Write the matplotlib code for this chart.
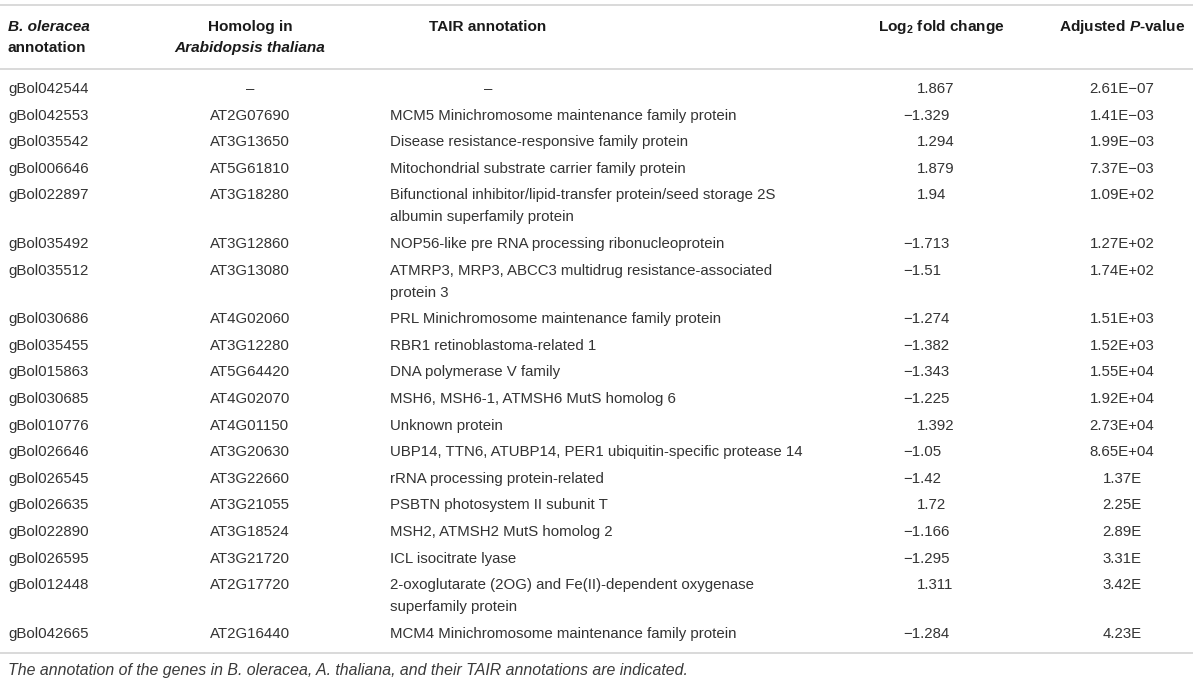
import matplotlib
matplotlib.use("Agg")
import matplotlib.pyplot as plt

plt.rcParams['font.family'] = ['Liberation Sans', 'DejaVu Sans']
plt.rcParams['mathtext.fontset'] = 'custom'
plt.rcParams['mathtext.rm'] = 'Liberation Sans:bold'
plt.rcParams['mathtext.bf'] = 'Liberation Sans:bold'
plt.rcParams['mathtext.it'] = 'Liberation Sans:italic:bold'

# table data
bol_ids = ['gBol042544', 'gBol042553', 'gBol035542', 'gBol006646', 'gBol022897',
           'gBol035492', 'gBol035512', 'gBol030686', 'gBol035455', 'gBol015863',
           'gBol030685', 'gBol010776', 'gBol026646', 'gBol026545', 'gBol026635',
           'gBol022890', 'gBol026595', 'gBol012448', 'gBol042665']
homologs = ['–', 'AT2G07690', 'AT3G13650', 'AT5G61810', 'AT3G18280',
            'AT3G12860', 'AT3G13080', 'AT4G02060', 'AT3G12280', 'AT5G64420',
            'AT4G02070', 'AT4G01150', 'AT3G20630', 'AT3G22660', 'AT3G21055',
            'AT3G18524', 'AT3G21720', 'AT2G17720', 'AT2G16440']
tair = ['–',
        'MCM5 Minichromosome maintenance family protein',
        'Disease resistance-responsive family protein',
        'Mitochondrial substrate carrier family protein',
        'Bifunctional inhibitor/lipid-transfer protein/seed storage 2S\nalbumin superfamily protein',
        'NOP56-like pre RNA processing ribonucleoprotein',
        'ATMRP3, MRP3, ABCC3 multidrug resistance-associated\nprotein 3',
        'PRL Minichromosome maintenance family protein',
        'RBR1 retinoblastoma-related 1',
        'DNA polymerase V family',
        'MSH6, MSH6-1, ATMSH6 MutS homolog 6',
        'Unknown protein',
        'UBP14, TTN6, ATUBP14, PER1 ubiquitin-specific protease 14',
        'rRNA processing protein-related',
        'PSBTN photosystem II subunit T',
        'MSH2, ATMSH2 MutS homolog 2',
        'ICL isocitrate lyase',
        '2-oxoglutarate (2OG) and Fe(II)-dependent oxygenase\nsuperfamily protein',
        'MCM4 Minichromosome maintenance family protein']
log2fc = [1.867, -1.329, 1.294, 1.879, 1.94, -1.713, -1.51, -1.274, -1.382, -1.343,
          -1.225, 1.392, -1.05, -1.42, 1.72, -1.166, -1.295, 1.311, -1.284]
padj = ['2.61E−07', '1.41E−03', '1.99E−03', '7.37E−03', '1.09E+02', '1.27E+02',
        '1.74E+02', '1.51E+03', '1.52E+03', '1.55E+04', '1.92E+04', '2.73E+04',
        '8.65E+04', '1.37E', '2.25E', '2.89E', '3.31E', '3.42E', '4.23E']
caption = ('The annotation of the genes in B. oleracea, A. thaliana, '
           'and their TAIR annotations are indicated.')

W, H = 1200, 686
fig = plt.figure(figsize=(12, 6.86), dpi=100)
ax = fig.add_axes([0, 0, 1, 1])
ax.set_xlim(0, W)
ax.set_ylim(H, 0)
ax.axis('off')

txt = '#333333'
rule = '#cfcfcf'
fs = 10.8

# column positions
x_id, x_hom, x_tair, x_tair_h, x_fc_h, x_fc, x_p = 8, 250, 390, 488, 941, 903, 1122
minus_pad = 14

# rules
for yy in (5, 69, 653):
    ax.plot([0, 1193], [yy, yy], color=rule, lw=1.1, solid_capstyle='butt')

# header
hkw = dict(fontsize=11.1, color='#1a1a1a', va='center', fontweight='bold')
ax.text(x_id, 27, 'B. oleracea', ha='left', fontstyle='italic', **hkw)
ax.text(x_id, 48, 'annotation', ha='left', **hkw)
ax.text(x_hom, 27, 'Homolog in', ha='center', **hkw)
ax.text(x_hom, 48, 'Arabidopsis thaliana', ha='center', fontstyle='italic', **hkw)
ax.text(x_tair_h, 27, 'TAIR annotation', ha='center', **hkw)
ax.text(x_fc_h, 27, r'Log$_{2}$ fold change', ha='center', **hkw)
ax.text(x_p, 27, r'Adjusted $P$-value', ha='center', **hkw)

# body rows
step, extra = 26.6, 22.0
y = 89
kw = dict(fontsize=fs, color=txt, va='center')
for i in range(len(bol_ids)):
    ax.text(x_id, y, bol_ids[i], ha='left', **kw)
    ax.text(x_hom, y, homologs[i], ha='center', **kw)
    lines = tair[i].split('\n')
    if tair[i] == '–':
        ax.text(x_tair_h, y, lines[0], ha='center', **kw)
    else:
        for k, ln in enumerate(lines):
            ax.text(x_tair, y + k * extra, ln, ha='left', **kw)
    v = log2fc[i]
    s = repr(v).replace('-', '\u2212')
    ax.text(x_fc if v < 0 else x_fc + minus_pad, y, s, ha='left', **kw)
    ax.text(x_p, y, padj[i], ha='center', **kw)
    y += step + extra * (len(lines) - 1)

ax.text(x_id, 670, caption, ha='left', fontsize=11.45, color='#3a3a3a',
        va='center', fontstyle='italic')

fig.savefig('out.png', dpi=100)
